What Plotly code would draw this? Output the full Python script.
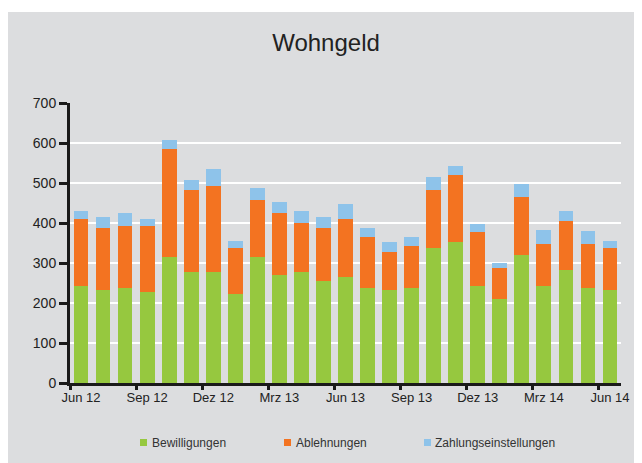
import plotly.graph_objects as go

months = ["Jun 12", "Jul 12", "Aug 12", "Sep 12", "Okt 12", "Nov 12", "Dez 12",
          "Jan 13", "Feb 13", "Mrz 13", "Apr 13", "Mai 13", "Jun 13", "Jul 13",
          "Aug 13", "Sep 13", "Okt 13", "Nov 13", "Dez 13", "Jan 14", "Feb 14",
          "Mrz 14", "Apr 14", "Mai 14", "Jun 14"]
bewilligungen = [243, 233, 238, 228, 316, 278, 278, 223, 316, 270, 278, 256, 265,
                 238, 233, 238, 338, 352, 243, 210, 320, 243, 283, 238, 233]
ablehnungen = [168, 155, 155, 164, 268, 205, 215, 115, 141, 154, 123, 132, 146,
               127, 95, 104, 145, 169, 135, 77, 146, 104, 123, 109, 105]
zahlungseinstellungen = [18, 27, 32, 18, 24, 25, 41, 18, 31, 29, 28, 27, 37,
                         23, 24, 24, 33, 22, 20, 14, 32, 36, 23, 32, 18]
series_names = ["Bewilligungen", "Ablehnungen", "Zahlungseinstellungen"]
label_months = months[::3]

GREEN = "#96C83F"
ORANGE = "#F37321"
BLUE = "#8EC3EA"
BG = "#DCDDDF"
colors = [GREEN, ORANGE, BLUE]

# figure geometry (page body adds an 8px margin)
W, H = 634, 455
L, R, T, B = 62, 21, 95, 80
PW, PH = W - L - R, H - T - B


def px_x(p):
    return (p - L) / PW


def px_y(p):
    return (H - B - p) / PH


x = list(range(len(months)))
label_pos = [i for i in x if i % 3 == 0]
tick_pos = [i - 0.5 for i in label_pos]

fig = go.Figure()
for name, vals, col in zip(series_names,
                           [bewilligungen, ablehnungen, zahlungseinstellungen], colors):
    fig.add_trace(go.Bar(x=x, y=vals, name=name, marker_color=col,
                         marker_line_width=0, customdata=months, showlegend=False,
                         hovertemplate="%{customdata}: %{y}<extra>" + name + "</extra>"))

# legend drawn as swatches + labels
shapes = [dict(type="rect", xref="paper", yref="paper",
               x0=px_x(0), x1=px_x(W + 20), y0=px_y(H + 20), y1=px_y(4),
               fillcolor=BG, line_width=0, layer="below")]
annotations = []
leg_x = [132, 276, 416]
for name, col, lx in zip(series_names, colors, leg_x):
    shapes.append(dict(type="rect", xref="paper", yref="paper",
                       x0=px_x(lx), x1=px_x(lx + 7), y0=px_y(438), y1=px_y(431),
                       fillcolor=col, line_width=0))
    annotations.append(dict(text=name, xref="paper", yref="paper",
                            x=px_x(lx + 9.5), y=px_y(434.5), xanchor="left",
                            yanchor="middle", showarrow=False,
                            font=dict(size=12, color="#333333")))

fig.update_layout(
    barmode="stack",
    bargap=0.33,
    width=W, height=H,
    margin=dict(l=L, r=R, t=T, b=B),
    paper_bgcolor="white",
    plot_bgcolor=BG,
    font=dict(family="Liberation Sans, Arial, sans-serif", color="#222222", size=13),
    title=dict(text="Wohngeld", x=318 / W, xanchor="center", y=1 - 35 / H,
               yanchor="middle", font=dict(size=24, color="#222222")),
    showlegend=False,
    shapes=shapes,
    annotations=annotations,
)

fig.update_xaxes(
    range=[-0.5, 24.5],
    tickmode="array", tickvals=label_pos, ticktext=label_months,
    ticks="", ticklen=0, showgrid=False, zeroline=False,
    showline=True, linecolor="#1a1a1a", linewidth=3,
    tickfont=dict(size=13, color="#222222"),
    minor=dict(tickmode="array", tickvals=tick_pos, ticks="outside", ticklen=4,
               tickwidth=3, tickcolor="#1a1a1a", showgrid=False),
)
fig.update_yaxes(
    range=[0, 700], tickmode="array", tickvals=list(range(0, 701, 100)),
    ticks="outside", ticklen=8, tickwidth=3, tickcolor="#1a1a1a",
    showgrid=True, gridcolor="white", gridwidth=2, zeroline=False,
    showline=True, linecolor="#1a1a1a", linewidth=3,
    tickfont=dict(size=14, color="#222222"),
)

fig.write_html("out.html")
